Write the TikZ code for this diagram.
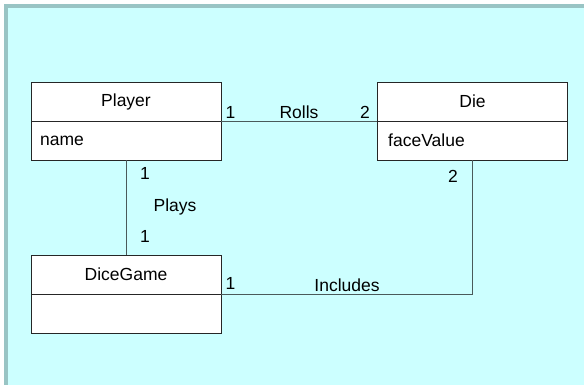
\documentclass[tikz,border=0pt]{standalone}
\usepackage{fontspec}
\setmainfont{Liberation Sans}
\definecolor{canvas}{HTML}{CCFFFF}
\definecolor{frameband}{HTML}{99C4C4}
\definecolor{linkline}{HTML}{4A5A5A}
\begin{document}
\begin{tikzpicture}[x=1pt,y=-1pt,
  every node/.style={font=\fontsize{17.5}{21}\selectfont, inner sep=0pt},
  classhead/.style={draw=black!85, fill=white, line width=0.8pt,
    minimum width=190pt, minimum height=39pt, anchor=center},
  classattr/.style={draw=black!85, fill=white, line width=0.8pt,
    minimum width=190pt, minimum height=39pt, anchor=center},
  attrtext/.style={anchor=west},
  link/.style={draw=linkline, line width=0.8pt},
  mult/.style={anchor=center}]
  \useasboundingbox (0,0) rectangle (584,385);
  % page background and shaded frame
  \fill[white] (0,0) rectangle (584,385);
  \fill[frameband] (4,4) rectangle (584,385);
  \fill[canvas] (8,8) rectangle (584,385);

  % classes
  \node[classhead] (pH) at (126,101.5) {Player};
  \node[classattr] (pA) at (126,140.5) {};
  \node[attrtext] (pAt) at (40,140.5) {name};

  \node[classhead] (dH) at (472.5,101.5) {Die};
  \node[classattr] (dA) at (472.5,140.5) {};
  \node[attrtext] (dAt) at (388,140.5) {faceValue};

  \node[classhead] (gH) at (126,274.5) {DiceGame};
  \node[classattr] (gA) at (126,313.5) {};

  % associations
  \draw[link] (pH.south east) -- (dH.south west);
  \draw[link] (pA.south) -- (gH.north);
  \draw[link] (gH.south east) -| (dA.south);

  % association names and multiplicities
  \node[mult] (m1) at (230.5,112) {1};
  \node[mult] (rolls) at (299,112) {Rolls};
  \node[mult] (m2) at (365,112) {2};

  \node[mult] (m3) at (145,173) {1};
  \node[mult] (plays) at (175,207) {Plays};
  \node[mult] (m4) at (145,236) {1};

  \node[mult] (m5) at (453,176) {2};

  \node[mult] (m6) at (230.5,283) {1};
  \node[mult] (incl) at (347,285) {Includes};
\end{tikzpicture}
\end{document}
